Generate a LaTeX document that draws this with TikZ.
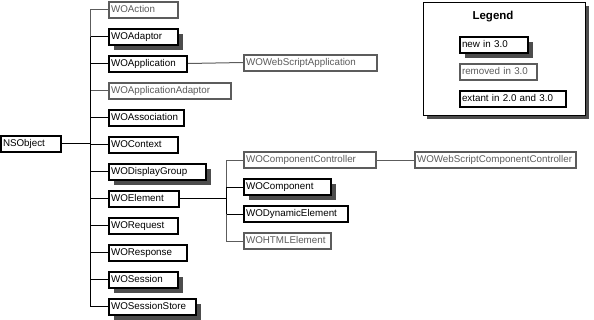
\documentclass[tikz,border=0pt]{standalone}
\usepackage{fontspec}
\setmainfont{Liberation Sans}
\usetikzlibrary{shadows}
\definecolor{gonegray}{HTML}{5C5C5C}
\definecolor{shadegray}{HTML}{4D4D4D}

\begin{document}
\begin{tikzpicture}[x=1pt,y=-1pt,
    cls/.style={anchor=west,draw,fill=white,line width=2pt,inner xsep=2pt,inner ysep=0pt,
      minimum height=16pt,text height=7.5pt,text depth=2pt,align=left,
      font=\fontsize{9.8}{12}\selectfont},
    keptbox/.style={cls},
    newbox/.style={cls,drop shadow={shadow xshift=5pt,shadow yshift=-5pt,fill=shadegray,opacity=1}},
    gonebox/.style={cls,draw=gonegray,text=gonegray},
    keptwire/.style={line width=1pt},
    newwire/.style={line width=1pt},
    gonewire/.style={line width=1pt,gonegray}]
      \useasboundingbox (0,0) rectangle (594,319);

      \coordinate (trunk) at (90,0);
      \coordinate (branch) at (226,0);

      \node[keptbox,text width=56] (NSObject) at (0,143.5) {NSObject};

      \foreach \name/\kind/\tw [count=\i from 0] in {WOAction/gone/65,WOAdaptor/new/65,
        WOApplication/kept/74,WOApplicationAdaptor/gone/118,WOAssociation/kept/71,
        WOContext/kept/65,WODisplayGroup/new/93,WOElement/kept/66,WORequest/kept/65,
        WOResponse/kept/74,WOSession/new/65,WOSessionStore/new/83}
      {
        \node[\kind box,text width=\tw] (\name) at (108,9.5+27*\i) {\name};
        \draw[\kind wire] (\name.west) -- (\name.west -| trunk);
      }
      \draw[gonewire] (WOAction.west -| trunk) -- (WOAdaptor.west -| trunk);
      \draw[keptwire] (WOAdaptor.west -| trunk) -- (WOSessionStore.west -| trunk);
      \draw[keptwire] (NSObject.east) -- (NSObject.east -| trunk);

      \node[gonebox,text width=129] (WOWebScriptApplication) at (243,62.5) {WOWebScriptApplication};
      \draw[gonewire] (WOApplication.east) -- (WOWebScriptApplication.west);

      \foreach \name/\kind/\tw [count=\i from 0] in {WOComponentController/gone/128,
        WOComponent/new/83,WODynamicElement/kept/100,WOHTMLElement/gone/83}
      {
        \node[\kind box,text width=\tw] (\name) at (243,160+27*\i) {\name};
        \draw[\kind wire] (\name.west) -- (\name.west -| branch);
      }
      \draw[gonewire] (WOComponentController.west -| branch) -- (WOComponent.west -| branch);
      \draw[keptwire] (WOComponent.west -| branch) -- (WODynamicElement.west -| branch);
      \draw[gonewire] (WODynamicElement.west -| branch) -- (WOHTMLElement.west -| branch);
      \draw[keptwire] (WOElement.east) -- (WOElement.east -| branch);

      \node[gonebox,text width=157] (WOWebScriptComponentController) at (414,160) {WOWebScriptComponentController};
      \draw[gonewire] (WOComponentController.east) -- (WOWebScriptComponentController.west);

      % legend
      \draw[line width=1pt,fill=white,drop shadow={shadow xshift=4pt,shadow yshift=-4pt,fill=shadegray,opacity=1}]
        (423,2) rectangle (585,115);
      \node[font=\bfseries\fontsize{11.5}{14}\selectfont] (legendtitle) at (493,17) {Legend};
      \node[newbox,text width=64] (legendnew) at (459,45) {new in 3.0};
      \node[gonebox,text width=73] (legendgone) at (459,72) {removed in 3.0};
      \node[keptbox,text width=102] (legendkept) at (459,98.5) {extant in 2.0 and 3.0};
\end{tikzpicture}
\end{document}
